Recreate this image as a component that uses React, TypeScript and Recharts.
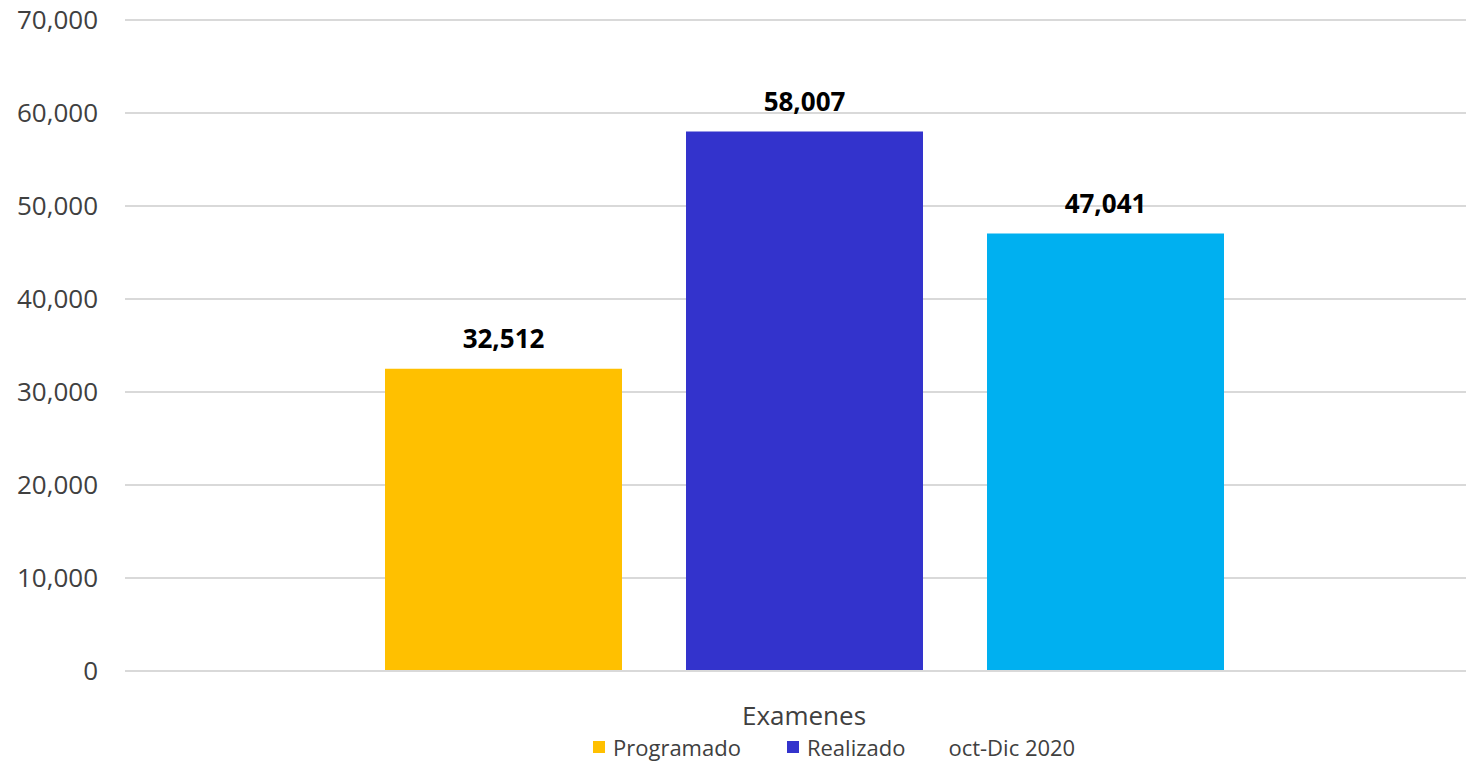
import { BarChart, Bar, XAxis, YAxis, CartesianGrid, LabelList, Legend } from "recharts";

const categories = ["Examenes"];
const programado = [32512];
const realizado = [58007];
const octDic2020 = [47041];
const yTicks = [0, 10000, 20000, 30000, 40000, 50000, 60000, 70000];

const seriesInfo = [
  { key: "programado", name: "Programado", color: "#FFC000", showIcon: true, gap: 46 },
  { key: "realizado", name: "Realizado", color: "#3333CC", showIcon: true, gap: 23 },
  { key: "octDic", name: "oct-Dic 2020", color: "#00B0F0", showIcon: false, gap: 0 },
];

const data = categories.map((c, i) => ({
  name: c,
  programado: programado[i],
  realizado: realizado[i],
  octDic: octDic2020[i],
}));

const fmt = (v: any) => Number(v).toLocaleString("en-US");
const FONT = "'Open Sans', sans-serif";

function LegendBox() {
  return (
    <div style={{ display: "flex", paddingLeft: 593, fontFamily: FONT, fontSize: 22, lineHeight: "28px", color: "#404040" }}>
      {seriesInfo.map((s) => (
        <div key={s.key} style={{ display: "flex", alignItems: "center", marginRight: s.gap }}>
          <span style={{ display: "inline-block", width: 12, height: 12, background: s.showIcon ? s.color : "transparent", marginRight: 8 }} />
          <span>{s.name}</span>
        </div>
      ))}
    </div>
  );
}

export default function App() {
  return (
    <div style={{ margin: "-8px -8px 0 -8px", width: 1474, height: 764, background: "#fff" }}>
      <BarChart
        width={1474}
        height={764}
        data={data}
        margin={{ top: 20, right: -9, bottom: 0, left: 0 }}
        barGap={64}
      >
        <CartesianGrid vertical={false} stroke="#D9D9D9" strokeWidth={2} />
        <XAxis
          dataKey="name"
          axisLine={{ stroke: "#D9D9D9", strokeWidth: 2 }}
          tickLine={false}
          tick={{ fontFamily: FONT, fontSize: 26, fill: "#404040" }}
          tickMargin={30}
          height={62}
        />
        <YAxis
          domain={[0, 70000]}
          ticks={yTicks}
          width={125}
          axisLine={false}
          tickLine={false}
          tickMargin={21}
          tickFormatter={fmt}
          tick={{ fontFamily: FONT, fontSize: 26, fill: "#404040" }}
        />
        {seriesInfo.map((s) => (
          <Bar key={s.key} dataKey={s.key} name={s.name} fill={s.color} barSize={237} isAnimationActive={false}>
            <LabelList
              dataKey={s.key}
              position="top"
              offset={21}
              formatter={fmt}
              style={{ fontFamily: FONT, fontSize: 26, fontWeight: 700, fill: "#000" }}
            />
          </Bar>
        ))}
        <Legend
          verticalAlign="bottom"
          content={() => <LegendBox />}
          wrapperStyle={{ top: 733, left: 0, width: 1474, bottom: "auto" }}
          height={31}
        />
      </BarChart>
    </div>
  );
}
